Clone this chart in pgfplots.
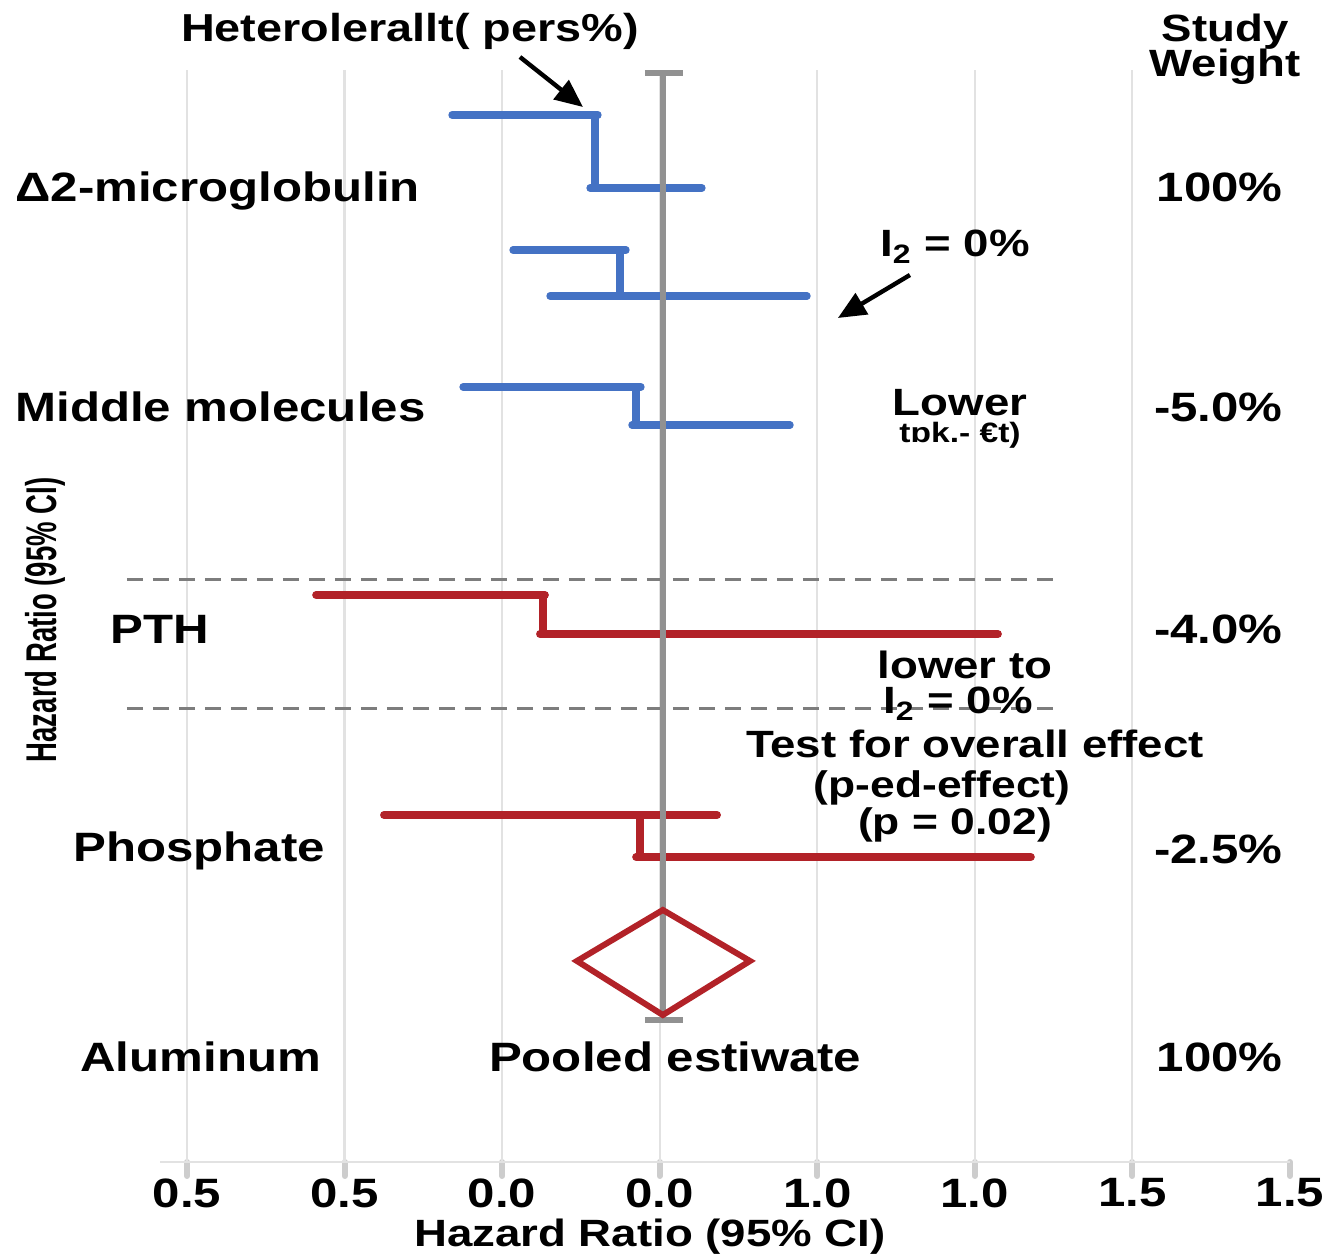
\documentclass[border=0pt]{standalone}
\usepackage{pgfplots}
\pgfplotsset{compat=1.18}
\usetikzlibrary{arrows.meta}
\usepackage{fontspec}
\setmainfont{Liberation Sans}[FakeStretch=1.2]
\newfontfamily\narrowfont{Liberation Sans}[FakeStretch=0.64]
\definecolor{fblue}{RGB}{68,114,196}
\definecolor{fred}{RGB}{178,34,40}
\definecolor{cgray}{RGB}{145,145,145}
\definecolor{dgray}{RGB}{125,125,125}
\definecolor{ggray}{RGB}{226,226,226}
\definecolor{tgray}{RGB}{205,205,205}
\newcommand{\lf}{\bfseries\fontsize{20.5}{24}\selectfont}
\newcommand{\af}{\bfseries\fontsize{19}{22}\selectfont}
\newcommand{\pf}{\bfseries\fontsize{18.5}{22}\selectfont}
\begin{document}
\begin{tikzpicture}
\begin{axis}[
  width=667.5pt, height=581pt, scale only axis,
  xmin=-1.187, xmax=7.286, ymin=-1162, ymax=0,
  axis y line=none, axis x line=bottom, axis line style={draw=none},
  xtick={0,1,2,3,4,5,6,7},
  xticklabels={0.5,0.5,0.0,0.0,1.0,1.0,1.5,1.5},
  xticklabel style={font=\lf, inner sep=0pt, yshift=-1pt},
  xtick style={draw=tgray, line width=3pt, line cap=round},
  tick align=outside, major tick length=7pt,
  clip=false,
]
% grid lines
\foreach \g in {0,...,6} {
  \edef\tmp{\noexpand\draw[ggray, line width=1.1pt] (axis cs:\g,-70) -- (axis cs:\g,-1162);}
  \tmp
}
\draw[ggray, line width=1.1pt] (axis cs:-0.171,-1162) -- (axis cs:7.0,-1162);
% dashed separators
\draw[dgray, line width=1.5pt, dash pattern=on 8pt off 5pt] (axis cs:-0.381,-580) -- (axis cs:5.509,-580);
\draw[dgray, line width=1.5pt, dash pattern=on 8pt off 5pt] (axis cs:-0.381,-709) -- (axis cs:5.509,-709);
% blue series
\addplot[fblue, line width=3.7pt, line cap=round, line join=round] coordinates {(1.682,-115) (2.608,-115)};
\addplot[fblue, line width=3.7pt, line cap=round, line join=round] coordinates {(2.589,-115) (2.589,-188)};
\addplot[fblue, line width=3.7pt, line cap=round, line join=round] coordinates {(2.558,-188) (3.268,-188)};
\addplot[fblue, line width=3.7pt, line cap=round, line join=round] coordinates {(2.069,-250) (2.786,-250)};
\addplot[fblue, line width=3.7pt, line cap=round, line join=round] coordinates {(2.748,-250) (2.748,-296)};
\addplot[fblue, line width=3.7pt, line cap=round, line join=round] coordinates {(2.304,-296) (3.935,-296)};
\addplot[fblue, line width=3.7pt, line cap=round, line join=round] coordinates {(1.752,-387) (2.881,-387)};
\addplot[fblue, line width=3.7pt, line cap=round, line join=round] coordinates {(2.850,-387) (2.850,-425)};
\addplot[fblue, line width=3.7pt, line cap=round, line join=round] coordinates {(2.824,-425) (3.827,-425)};
% red series
\addplot[fred, line width=3.9pt, line cap=round, line join=round] coordinates {(0.819,-595) (2.272,-595)};
\addplot[fred, line width=3.9pt, line cap=round, line join=round] coordinates {(2.259,-595) (2.259,-634)};
\addplot[fred, line width=3.9pt, line cap=round, line join=round] coordinates {(2.240,-634) (5.147,-634)};
\addplot[fred, line width=3.9pt, line cap=round, line join=round] coordinates {(1.250,-815) (3.364,-815)};
\addplot[fred, line width=3.9pt, line cap=round, line join=round] coordinates {(2.875,-815) (2.875,-857)};
\addplot[fred, line width=3.9pt, line cap=round, line join=round] coordinates {(2.850,-857) (5.356,-857)};
% central line
\addplot[cgray, line width=3pt] coordinates {(3.02,-73) (3.02,-1020)};
\addplot[cgray, line width=3pt] coordinates {(2.906,-73) (3.147,-73)};
\addplot[cgray, line width=3pt] coordinates {(2.906,-1020) (3.147,-1020)};
% pooled diamond
\addplot[fred, line width=3pt, line join=miter] coordinates {(3.02,-910) (3.573,-961) (3.02,-1015) (2.475,-961)} -- cycle;
% arrows
\draw[-{Triangle[length=14pt,width=12pt]}, line width=2.2pt, black] (axis cs:2.113,-57) -- (axis cs:2.513,-107);
\draw[-{Triangle[length=14pt,width=12pt]}, line width=2.2pt, black] (axis cs:4.588,-275) -- (axis cs:4.131,-318);
% header texts
\node[anchor=base, font=\bfseries\fontsize{19.5}{23}\selectfont] at (axis cs:1.415,-42) {Heterolerallt( pers\%)};
\node[anchor=base, font=\af] at (axis cs:6.588,-42) {Study};
\node[anchor=base, font=\af] at (axis cs:6.588,-77) {Weight};
% left labels
\node[anchor=base west, font=\lf, inner sep=0pt] at (axis cs:-1.092,-202) {Δ2-microglobulin};
\node[anchor=base west, font=\lf, inner sep=0pt] at (axis cs:-1.092,-422) {Middle molecules};
\node[anchor=base west, font=\lf, inner sep=0pt] at (axis cs:-0.489,-644) {PTH};
\node[anchor=base west, font=\lf, inner sep=0pt] at (axis cs:-0.723,-862) {Phosphate};
\node[anchor=base west, font=\lf, inner sep=0pt] at (axis cs:-0.679,-1072) {Aluminum};
\node[anchor=base, font=\lf] at (axis cs:3.097,-1072) {Pooled estiwate};
% right column
\node[anchor=base east, font=\lf, inner sep=0pt] at (axis cs:6.956,-202) {100\%};
\node[anchor=base east, font=\lf, inner sep=0pt] at (axis cs:6.956,-422) {-5.0\%};
\node[anchor=base east, font=\lf, inner sep=0pt] at (axis cs:6.956,-644) {-4.0\%};
\node[anchor=base east, font=\lf, inner sep=0pt] at (axis cs:6.956,-864) {-2.5\%};
\node[anchor=base east, font=\lf, inner sep=0pt] at (axis cs:6.956,-1072) {100\%};
% annotations
\node[anchor=base, font=\af] at (axis cs:4.874,-257) {I\textsubscript{2} = 0\%};
\node[anchor=base, font=\af] at (axis cs:4.906,-416) {Lower};
\node[anchor=base, font=\bfseries\fontsize{14}{16}\selectfont] at (axis cs:4.906,-443) {tɒk.- €t)};
\node[anchor=base, font=\af] at (axis cs:4.937,-679) {lower to};
\node[anchor=base, font=\af] at (axis cs:4.893,-714) {I\textsubscript{2} = 0\%};
\node[anchor=base, font=\af, inner sep=0pt] at (axis cs:5.001,-758) {Test for overall effect};
\node[anchor=base, font=\pf, inner sep=0pt] at (axis cs:4.792,-798) {(p-ed-effect)};
\node[anchor=base, font=\pf, inner sep=0pt] at (axis cs:4.874,-835) {(p = 0.02)};
% axis titles
\node[anchor=base, font=\af, inner sep=0pt] at (axis cs:2.938,-1246) {Hazard Ratio (95\% CI)};
\node[rotate=90, font=\narrowfont\bfseries\fontsize{21.5}{24}\selectfont] at (axis cs:-0.901,-620) {Hazard Ratio (95\% CI)};
\coordinate (BL) at (axis cs:-1.187,-1254);
\coordinate (TR) at (axis cs:7.286,0);
\end{axis}
\pgfresetboundingbox
\useasboundingbox (BL) rectangle (TR);
\end{tikzpicture}
\end{document}
